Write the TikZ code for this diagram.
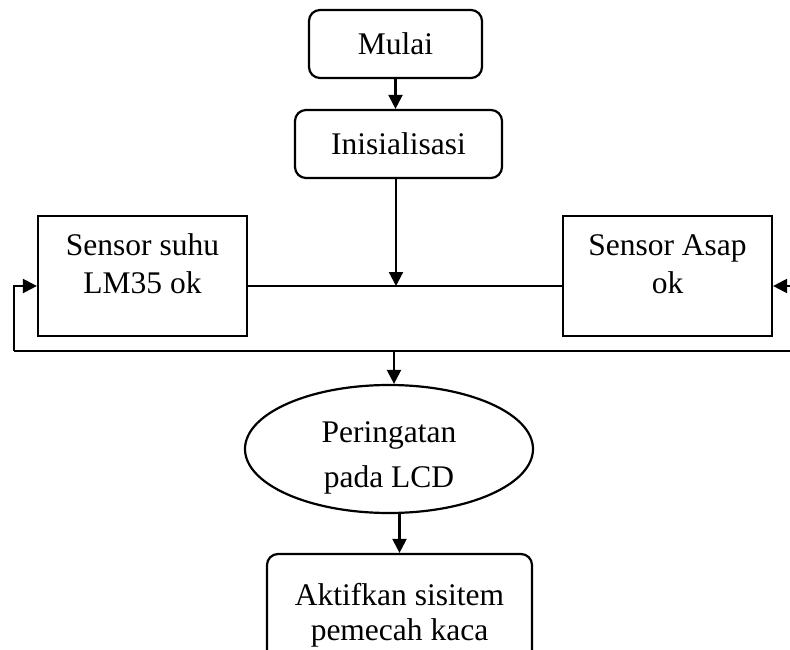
\documentclass[tikz,border=0pt]{standalone}
\usepackage{fontspec}
\setmainfont{Liberation Serif}
\usetikzlibrary{arrows.meta,shapes.geometric}

\tikzset{
    flowline/.style={line width=2.2pt},
    flowarrow/.style={line width=2.2pt, -{Triangle[length=14pt,width=14pt]}},
    roundbox/.style={draw, line width=2.2pt, rounded corners=11pt, inner sep=0pt},
    sensorbox/.style={draw, line width=2.2pt, minimum width=209pt, minimum height=120pt, inner sep=0pt},
    lcdshape/.style={draw, ellipse, line width=2.2pt, minimum width=288pt, minimum height=128pt, inner sep=0pt},
    txt/.style={align=center, font=\fontsize{31.5}{38}\selectfont},
}

\begin{document}
\begin{tikzpicture}[x=1pt, y=-1pt]

    \useasboundingbox (0, 0) rectangle (790, 650);

    % Start and init
    \node[roundbox, minimum width=173pt, minimum height=68pt, txt] (mulai) at (395.5, 44) {Mulai};
    \node[roundbox, minimum width=207pt, minimum height=68pt, txt] (init) at (398.5, 144) {Inisialisasi};

    % Both sensors
    \node[sensorbox] (suhu) at (142.5, 276) {};
    \node[txt] (suhutxt) at (142.5, 264) {Sensor suhu\\LM35 ok};

    \node[sensorbox] (asap) at (667.5, 276) {};
    \node[txt] (asaptxt) at (667.5, 264) {Sensor Asap\\ok};

    % Warning and action
    \node[lcdshape] (lcd) at (389, 449) {};
    \node[txt] (lcdtxt) at (389, 458) {Peringatan\\[7pt]pada LCD};

    \node[roundbox, minimum width=265pt, minimum height=115pt] (aktif) at (399.5, 611.5) {};
    \node[txt] (aktiftxt) at (399.5, 615.5) {Aktifkan sisitem\\[-3pt]pemecah kaca};

    \coordinate (junc) at (396, 286);

    \coordinate (fbl) at (14, 351);

    \coordinate (fbr) at (798, 351);

    \coordinate (fbmid) at (394, 351);



    \draw[flowarrow] (mulai.south) -- (mulai.south |- init.north);
    \draw[flowarrow] (init.south -| junc) -- (junc);

    \draw[flowline] (suhu.east |- junc) -- (asap.west |- junc);

    \draw[flowline] (fbl) -- (fbr);
    \draw[flowarrow] (fbl) -- (fbl |- junc) -- (suhu.west |- junc);
    \draw[flowarrow] (fbr) -- (fbr |- junc) -- (asap.east |- junc);


    \draw[flowarrow] (fbmid) -- (fbmid |- lcd.north);
    \draw[flowarrow] (lcd.south -| aktif.north) -- (aktif.north);

\end{tikzpicture}
\end{document}
